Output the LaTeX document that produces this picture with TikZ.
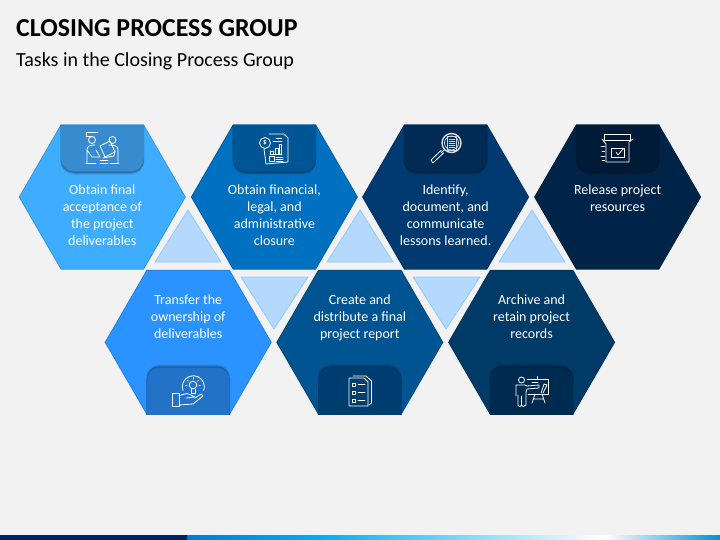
\documentclass[tikz,border=0pt]{standalone}
\usepackage{fontspec}
\setmainfont{Carlito}
\definecolor{bgc}{HTML}{F2F2F2}
\definecolor{triF}{HTML}{B5D8FD}
\definecolor{triB}{HTML}{90CCFF}
\definecolor{hA}{HTML}{3FADFF}\definecolor{tA}{HTML}{378CD0}
\definecolor{hB}{HTML}{0070C0}\definecolor{tB}{HTML}{005595}
\definecolor{hC}{HTML}{003A70}\definecolor{tC}{HTML}{012B55}
\definecolor{hD}{HTML}{002448}\definecolor{tD}{HTML}{001B38}
\definecolor{hE}{HTML}{2B93FF}\definecolor{tE}{HTML}{2273C8}
\definecolor{hF}{HTML}{005491}\definecolor{tF}{HTML}{003D70}
\definecolor{hG}{HTML}{003A66}\definecolor{tG}{HTML}{002B50}
\definecolor{navy}{HTML}{002060}
\definecolor{cyan1}{HTML}{00B0F0}
\definecolor{end1}{HTML}{0090D8}
\tikzset{
  hexlabel/.style={text=white,font=\fontsize{14}{17}\selectfont,align=center,anchor=north},
  ico/.style={draw=white,line width=0.8pt,line cap=round,line join=round},
  tri/.style={fill=triF,draw=triB,line width=0.8pt,line join=round}
}
% hexagon: centre x, centre y, fill
\newcommand{\hexa}[3]{%
  \fill[#3!85!black] (#1-83.5,#2) -- (#1-41.5,#2-72.5) -- (#1+41.5,#2-72.5) -- (#1+83.5,#2) -- (#1+41.5,#2+72.5) -- (#1-41.5,#2+72.5) -- cycle;
  \fill[#3] (#1-82.5,#2) -- (#1-41,#2-71.7) -- (#1+41,#2-71.7) -- (#1+82.5,#2) -- (#1+41,#2+71.7) -- (#1-41,#2+71.7) -- cycle;}
% tab at the top of a hexagon
\newcommand{\toptab}[3]{%
  \foreach \s/\o in {3.5/.08,2.5/.12,1.5/.18}
    \fill[black,opacity=\o] (#1-41.8,#2) [rounded corners=13pt] -- (#1-41.8,#2+46+\s) -- (#1+41.8,#2+46+\s) [sharp corners] -- (#1+41.8,#2) -- cycle;
  \fill[#3] (#1-41.5,#2) [rounded corners=13pt] -- (#1-41.5,#2+46) -- (#1+41.5,#2+46) [sharp corners] -- (#1+41.5,#2) -- cycle;}
% tab at the bottom of a hexagon
\newcommand{\bottab}[3]{%
  \foreach \s/\o in {3.5/.08,2.5/.12,1.5/.18}
    \fill[black,opacity=\o] (#1-41.8,#2) [rounded corners=13pt] -- (#1-41.8,#2-47-\s) -- (#1+41.8,#2-47-\s) [sharp corners] -- (#1+41.8,#2) -- cycle;
  \fill[#3] (#1-41.5,#2) [rounded corners=13pt] -- (#1-41.5,#2-47) -- (#1+41.5,#2-47) [sharp corners] -- (#1+41.5,#2) -- cycle;}
\begin{document}
\begin{tikzpicture}[x=1pt,y=-1pt]
\useasboundingbox (0,0) rectangle (720,540);
\fill[bgc] (0,0) rectangle (720,540);
% footer
\fill[navy] (0,535) rectangle (187,540);
\shade[left color=hB!80!cyan1,right color=cyan1] (187,535) rectangle (320,540);
\shade[left color=cyan1,right color=white] (320,535) rectangle (605,540);
\shade[left color=white,right color=end1] (605,535) rectangle (720,540);
% title
\node[anchor=base west,inner sep=0,font=\fontsize{25.9}{28}\bfseries\selectfont,text=black] (title) at (16,36.5) {CLOSING PROCESS GROUP};
\node[anchor=base west,inner sep=0,font=\fontsize{20}{22}\selectfont,text=black] (subtitle) at (16,66.7) {Tasks in the Closing Process Group};
% triangles
\draw[tri] (188,210) -- (221,262) -- (155,262) -- cycle;
\draw[tri] (360,210) -- (393,262) -- (327,262) -- cycle;
\draw[tri] (532,210) -- (565,262) -- (499,262) -- cycle;
\draw[tri] (274,329) -- (308,277) -- (241,277) -- cycle;
\draw[tri] (446,329) -- (480,277) -- (413,277) -- cycle;
% hexagons
\hexa{102.3}{197}{hA}\toptab{102.3}{125.3}{tA}
\hexa{274.4}{197}{hB}\toptab{274.4}{125.3}{tB}
\hexa{445.6}{197}{hC}\toptab{445.6}{125.3}{tC}
\hexa{617.6}{197}{hD}\toptab{617.6}{125.3}{tD}
\hexa{188.2}{342.3}{hE}\bottab{188.2}{414.8}{tE}
\hexa{359.8}{342.3}{hF}\bottab{359.8}{414.8}{tF}
\hexa{531.6}{342.3}{hG}\bottab{531.6}{414.8}{tG}
% labels
\node[hexlabel] (l1) at (102.3,181.2) {Obtain final\\acceptance of\\the project\\deliverables};
\node[hexlabel] (l2) at (274.4,181.2) {Obtain financial,\\legal, and\\administrative\\closure};
\node[hexlabel] (l3) at (445.6,181.2) {Identify,\\document, and\\communicate\\lessons learned.};
\node[hexlabel] (l4) at (617.6,181.2) {Release project\\resources};
\node[hexlabel] (l5) at (188.2,291.2) {Transfer the\\ownership of\\deliverables};
\node[hexlabel] (l6) at (359.8,291.2) {Create and\\distribute a final\\project report};
\node[hexlabel] (l7) at (531.6,291.2) {Archive and\\retain project\\records};
% icon 1
\begin{scope}[ico]
\draw (86,136) -- (86,132.5) -- (98,132.5) (86,136) -- (92,136);
\draw (92,140) circle (3.5) (112.5,140) circle (3.5);
\draw (87,163) -- (87,150) .. controls (87,146) and (90,145) .. (95,145) (96,150) -- (100,157) (87,150) -- (92,157) -- (100,157);
\draw (118,163) -- (118,150) .. controls (118,146) and (115,145) .. (109,145) (115,151) -- (114,156) -- (103,158);
\draw (100,146) -- (110,141) -- (115,152) -- (105,157) -- cycle;
\draw (86,163.5) -- (96,163.5) (100,163.5) -- (108,163.5) (110,163.5) -- (119,163.5) (100,160) -- (108,160);
\end{scope}
% icon 2
\begin{scope}[ico]
\draw (269,134) -- (284,134) -- (288,138) -- (288,162) -- (266,164) -- (264,149);
\draw (265,143) circle (5.5);
\draw (276,138) -- (282,138) (273,141) -- (282,141);
\draw (270,151) -- (270,154) (273,151) -- (273,154) (270,151) -- (273,151) (275,154) -- (275,148) -- (278,148) -- (278,154) (279,154) -- (279,144.5) -- (281.5,144.5) -- (281.5,154) (270,154) -- (282,154);
\draw (269,156.5) rectangle (274,161.5) (276,157) -- (283,157) (276,159) -- (283,159) (276,161) -- (283,161);
\node[text=white,inner sep=0,font=\fontsize{7}{7}\bfseries\selectfont] (dollar) at (265,143) {\$};
\end{scope}
% icon 3
\begin{scope}[ico]
\draw[line width=1.4pt,white!85!tC] (451.5,143) circle (9.5);
\draw[white!80!tC] (451.5,143) circle (7);
\draw (444,150) -- (441.5,152.5) (441,150.5) -- (431,160) -- (433,163) -- (443.5,153);
\draw[white!80!tC] (447,136) rectangle (456,150);
\foreach \yy in {139,141,143,145,147} \draw[white!80!tC] (449,\yy) -- (455,\yy);
\end{scope}
% icon 4
\begin{scope}[ico]
\draw[line width=1pt] (604,134.5) -- (630,134.5) -- (630,141) -- (604,141) -- cycle;
\draw (602,139) -- (606,144) -- (606,162) -- (629,162) -- (629,142) -- (633,139);
\draw (611,148) -- (624,148) -- (624,157) -- (611,157) -- cycle;
\draw (616,152) -- (618,155) -- (623,149);
\draw (601,146) -- (605,146) (602,151) -- (605,151) (601,156) -- (605,156) (602,160) -- (605,160);
\end{scope}
% icon 5
\begin{scope}[ico]
\draw (183,390.5) arc[start angle=160,end angle=380,radius=11];
\draw (193,385) circle (3.8);
\draw (191,389) -- (191,393) -- (195.5,393) -- (195.5,389);
\draw (172,393.5) -- (179,393.5) -- (179,406) -- (172,406) -- cycle;
\draw (179,395.5) -- (187,393.5) .. controls (190,394) and (192,396) .. (195,397) -- (186,398);
\draw (195,398) -- (201,394) -- (203,396) -- (193,404) -- (179,405);
\foreach \a in {180,220,270,320,360} \draw (193,385) ++(\a:6) -- ++(\a:1.2);
\end{scope}
% icon 6
\begin{scope}[ico]
\draw (353,376) -- (366,376) -- (371.5,381) -- (371.5,403) -- (369,405);
\draw (349,378) -- (364,378) -- (368,382) -- (368,406) -- (349,406) -- cycle;
\foreach \yy in {385,393,401} {\draw (352,\yy-2) rectangle (355.5,\yy+1); \draw (358,\yy-1) -- (365,\yy-1);}
\end{scope}
% icon 7
\begin{scope}[ico]
\draw (521.5,380) circle (3);
\draw (516,385) -- (525,385) -- (527,386) -- (539,385) -- (539,388) -- (527,389) -- (526,392) -- (526,405);
\draw (516,385) -- (516,396) (518,395) -- (518,405.5) .. controls (519,407) and (521,407) .. (521.5,405.5) -- (521.5,396) (521.5,405.5) .. controls (522,407) and (525,407) .. (525.5,405);
\draw (527,379) -- (548,379) -- (548,394) -- (528,394);
\draw (537,376.5) -- (537,379);
\draw (532,382) -- (538,382);
\draw (541,393) -- (544,384) -- (547,385) -- (543,393);
\draw (535,394) -- (532,403) (542,394) -- (545,403) (533.5,399) -- (543.5,399);
\end{scope}
\end{tikzpicture}
\end{document}
